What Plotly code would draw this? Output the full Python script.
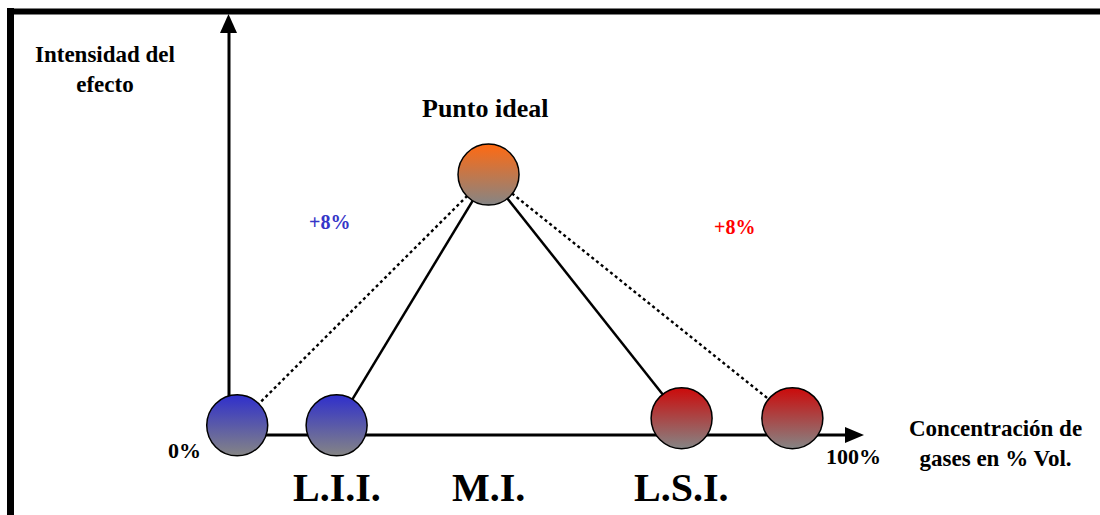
import plotly.graph_objects as go

# ---- data ----
conc = [1.3, 17.0, 41.0, 71.5, 89.0]          # % Vol. position of each ball
intensity = [2.3, 2.3, 62.0, 4.0, 4.0]        # intensity of the effect
ball_colors = ["#2F2FCC", "#2F2FCC", "#FF6A12", "#CC0A0A", "#CC0A0A"]
solid_links = [(2, 1), (2, 3)]
dotted_links = [(2, 0), (2, 4)]
limit_labels = ["L.I.I.", "M.I.", "L.S.I."]
limit_conc = [17.0, 41.0, 71.5]
pct_labels = ["+8%", "+8%"]
pct_colors = ["#3535C8", "#FF0000"]

# ---- geometry (pixel mapping of the axes) ----
W, H = 1100, 515
X0, X100 = 229, 862      # pixel x of 0 % and 100 %
Y0, Y100 = 435, 15       # pixel y of 0 and 100 intensity
sx = (X100 - X0) / 100.0
sy = (Y0 - Y100) / 100.0


def X(p):
    return (p - X0) / sx


def Y(p):
    return (Y0 - p) / sy


FONT = "Liberation Serif"

fig = go.Figure()

for a, b in solid_links:
    fig.add_trace(go.Scatter(x=[conc[a], conc[b]], y=[intensity[a], intensity[b]],
                             mode="lines", line=dict(color="black", width=2.5),
                             hoverinfo="skip", showlegend=False))
for a, b in dotted_links:
    fig.add_trace(go.Scatter(x=[conc[a], conc[b]], y=[intensity[a], intensity[b]],
                             mode="lines", line=dict(color="black", width=2.4, dash="dot"),
                             hoverinfo="skip", showlegend=False))

fig.add_trace(go.Scatter(
    x=conc, y=intensity, mode="markers", showlegend=False, hoverinfo="skip",
    marker=dict(size=61, color=ball_colors,
                gradient=dict(type="vertical", color="#858585"),
                line=dict(color="black", width=1.5))))

shapes = []
# axes
shapes.append(dict(type="line", xref="x", yref="y", x0=0, y0=0, x1=X(846), y1=0,
                   line=dict(color="black", width=3), layer="below"))
shapes.append(dict(type="path", xref="x", yref="y",
                   path=f"M {X(845)},{Y(427)} L {X(864)},{Y(435)} L {X(845)},{Y(443)} Z",
                   fillcolor="black", line=dict(color="black", width=0), layer="below"))
shapes.append(dict(type="line", xref="x", yref="y", x0=0, y0=0, x1=0, y1=Y(32),
                   line=dict(color="black", width=3), layer="below"))
shapes.append(dict(type="path", xref="x", yref="y",
                   path=f"M {X(220)},{Y(33)} L {X(228.5)},{Y(14)} L {X(237)},{Y(33)} Z",
                   fillcolor="black", line=dict(color="black", width=0), layer="below"))
# frame
shapes.append(dict(type="line", xref="paper", yref="paper", x0=7 / W, y0=1 - 11.5 / H,
                   x1=1, y1=1 - 11.5 / H, line=dict(color="black", width=6)))
shapes.append(dict(type="line", xref="paper", yref="paper", x0=10.5 / W, y0=1 - 8 / H,
                   x1=10.5 / W, y1=0, line=dict(color="black", width=7)))

ann = []


def add_text(text, xp, yp, size, color="black"):
    ann.append(dict(text=text, x=X(xp), y=Y(yp), xref="x", yref="y", showarrow=False,
                    xanchor="center", yanchor="middle",
                    font=dict(family=FONT, size=size, color=color, weight="bold")))


add_text("Intensidad del<br>efecto", 105, 69, 23)
add_text("Punto ideal", 485, 108, 26)
add_text(pct_labels[0], 329, 222, 20, pct_colors[0])
add_text(pct_labels[1], 734, 227, 20, pct_colors[1])
add_text("0%", 184, 450, 22)
add_text("100%", 853, 456, 22)
add_text("Concentración de<br>gases en % Vol.", 995, 443, 23)
for lab, c in zip(limit_labels, limit_conc):
    ann.append(dict(text=lab, x=c, y=Y(487), xref="x", yref="y", showarrow=False,
                    xanchor="center", yanchor="middle",
                    font=dict(family=FONT, size=40, color="black", weight="bold")))

fig.update_layout(
    width=W, height=H, margin=dict(l=0, r=0, t=0, b=0, pad=0),
    paper_bgcolor="white", plot_bgcolor="white",
    xaxis=dict(range=[X(0), X(W)], visible=False, fixedrange=True),
    yaxis=dict(range=[Y(H), Y(0)], visible=False, fixedrange=True),
    shapes=shapes, annotations=ann, showlegend=False,
)

fig.write_html("out.html", config=dict(displayModeBar=False),
               post_script="document.body.style.margin='0';document.body.style.overflow='hidden';")
